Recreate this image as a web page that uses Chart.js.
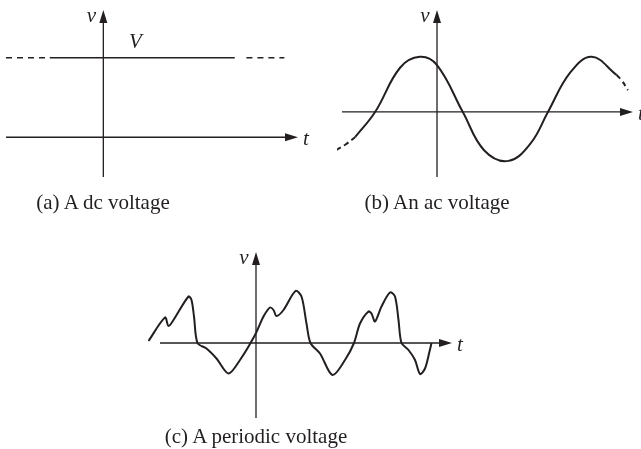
<!DOCTYPE html>
<html>
<head>
<meta charset="utf-8">
<script src="https://cdn.jsdelivr.net/npm/chart.js@4.4.1/dist/chart.umd.min.js"></script>
<style>
  html, body { margin: 0; padding: 0; background: #fff; }
  body { width: 641px; height: 449px; position: relative; overflow: hidden; }
  canvas { position: absolute; }
  .cap { position: absolute; font: 21px "Liberation Serif", "Times New Roman", serif; line-height: 21px;
         color: #231f20; white-space: nowrap; transform: translateX(-50%); }
</style>
</head>
<body>
<canvas id="dc" width="320" height="200" style="left:0;top:0"></canvas>
<canvas id="ac" width="321" height="200" style="left:320px;top:0"></canvas>
<canvas id="per" width="400" height="200" style="left:100px;top:230px"></canvas>
<div class="cap" style="left:103px;top:192px">(a) A dc voltage</div>
<div class="cap" style="left:437px;top:192px">(b) An ac voltage</div>
<div class="cap" style="left:256px;top:426px">(c) A periodic voltage</div>
<script>
// (a) dc voltage
const dcLevel = 2;
const dcSolidT = [-0.55, 1.35];
const dcDashLeftT = [-1, -0.55];
const dcDashRightT = [1.47, 1.86];
const dcAxisT = [-1, 2];
const dcAxisV = [-1, 3.2];

// (b) ac voltage (t in ms, v in volts)
const acDashLeftT = [-11.7, -10.6, -9.5];
const acDashLeftV = [-7.3, -6.2, -4.8];
const acT = [-9.5, -7.2, -4.3, -2.0, 0, 3.0, 5.5, 8.3, 10.9, 12.9, 15.5, 18.0, 20.9];
const acV = [-4.8, 0, 8.5, 10.6, 9.0, 0, -7.4, -9.4, -6.0, 0, 7.6, 10.6, 7.1];
const acDashRightT = [20.9, 21.5, 22.2];
const acDashRightV = [7.1, 6.0, 4.2];
const acAxisT = [-11.05, 22.79];
const acAxisV = [-12.5, 19.6];

// (c) periodic voltage
const perT = [-21.5, -18.2, -17.5, -16.5, -13.5, -12.9, -12.4, -11.7, -9.9, -7.9, -5.5, -3.2, -0.2, 1.5, 2.8, 3.5, 4.1, 5.5, 7.9, 9.1,
              10.1, 10.9, 12.8, 15.3, 17.8, 19.6, 20.8, 22.5, 23.1, 23.8, 25.1, 26.8, 27.8, 28.5, 29.1, 30.5, 31.8, 32.8, 33.8, 34.7, 35.1];
const perV = [0.4, 5.1, 3.4, 4.6, 9.3, 8.6, 5.3, 0, -1.1, -3.1, -6.1, -3.4, 1.6, 5.3, 7.1, 6.6, 5.4, 6.6, 10.4, 9.3,
              3.9, 0, -2.1, -6.4, -3.4, 0, 3.9, 6.3, 5.9, 4.3, 7.3, 10.1, 9.3, 4.6, 0, -1.4, -3.4, -6.2, -5.1, -1.7, 0];
const perAxisT = [-19.2, 39.2];
const perAxisV = [-15, 18.2];

const INK = '#231f20';
const pts = (ts, vs) => ts.map((t, i) => ({ x: t, y: Array.isArray(vs) ? vs[i] : vs }));

// axes with arrowheads, plus italic labels, drawn through the chart's scales
const axesPlugin = {
  id: 'axes',
  afterDatasetsDraw(chart, args, o) {
    const { ctx, scales: { x, y } } = chart;
    const x0 = x.getPixelForValue(0), y0 = y.getPixelForValue(0);
    const xa = x.getPixelForValue(o.t[0]), xb = x.getPixelForValue(o.t[1]);
    const ya = y.getPixelForValue(o.v[0]), yb = y.getPixelForValue(o.v[1]);
    const L = 13, W = 4;
    ctx.save();
    ctx.strokeStyle = INK; ctx.fillStyle = INK; ctx.lineWidth = 1.3;
    ctx.beginPath();
    ctx.moveTo(xa, y0); ctx.lineTo(xb - L + 1, y0);
    ctx.moveTo(x0, ya); ctx.lineTo(x0, yb + L - 1);
    ctx.stroke();
    ctx.beginPath();
    ctx.moveTo(xb, y0); ctx.lineTo(xb - L, y0 - W); ctx.lineTo(xb - L, y0 + W); ctx.closePath();
    ctx.moveTo(x0, yb); ctx.lineTo(x0 - W, yb + L); ctx.lineTo(x0 + W, yb + L); ctx.closePath();
    ctx.fill();
    ctx.font = 'italic 21px "Liberation Serif", serif';
    ctx.textBaseline = 'alphabetic';
    ctx.textAlign = 'center';
    ctx.fillText('\u03bd', x0 - 12, yb + 12);
    ctx.textAlign = 'left';
    ctx.fillText('t', xb + 5, y0 + 8);
    (o.extra || []).forEach(l => {
      ctx.textAlign = 'center';
      ctx.fillText(l.text, x.getPixelForValue(l.t), y.getPixelForValue(l.v) - 10);
    });
    ctx.restore();
  }
};

function panel(id, xr, yr, pad, datasets, axes) {
  return new Chart(document.getElementById(id), {
    type: 'line',
    data: { datasets },
    options: {
      responsive: false, animation: false, events: [],
      layout: { padding: pad },
      parsing: false,
      elements: {
        point: { radius: 0 },
        line: { borderColor: INK, borderWidth: 2, fill: false, borderCapStyle: 'butt', capBezierPoints: false }
      },
      scales: {
        x: { type: 'linear', min: xr[0], max: xr[1], display: false },
        y: { type: 'linear', min: yr[0], max: yr[1], display: false }
      },
      plugins: { legend: { display: false }, tooltip: { enabled: false }, axes }
    },
    plugins: [axesPlugin]
  });
}

panel('dc', [-1, 2], [-1, 3.2], { left: 6, right: 22, top: 10, bottom: 23 }, [
  { data: pts(dcDashLeftT, dcLevel), borderDash: [6, 5], borderWidth: 1.6 },
  { data: pts(dcSolidT, dcLevel), borderWidth: 1.6 },
  { data: pts(dcDashRightT, dcLevel), borderDash: [6, 5], borderWidth: 1.6 }
], { t: dcAxisT, v: dcAxisV, extra: [{ text: 'V', t: 0.33, v: dcLevel }] });

panel('ac', [-11.63, 22.79], [-12.5, 19.6], { left: 17, right: 8, top: 10, bottom: 23 }, [
  { data: pts(acDashLeftT, acDashLeftV), borderDash: [5, 4], tension: 0.4 },
  { data: pts(acT, acV), tension: 0.4 },
  { data: pts(acDashRightT, acDashRightV), borderDash: [5, 4], tension: 0.4 }
], { t: acAxisT, v: acAxisV });

panel('per', [-21.6, 39.2], [-15, 18.2], { left: 48, right: 48, top: 22, bottom: 12 }, [
  { data: pts(perT, perV), tension: 0.3 }
], { t: perAxisT, v: perAxisV });
</script>
</body>
</html>
